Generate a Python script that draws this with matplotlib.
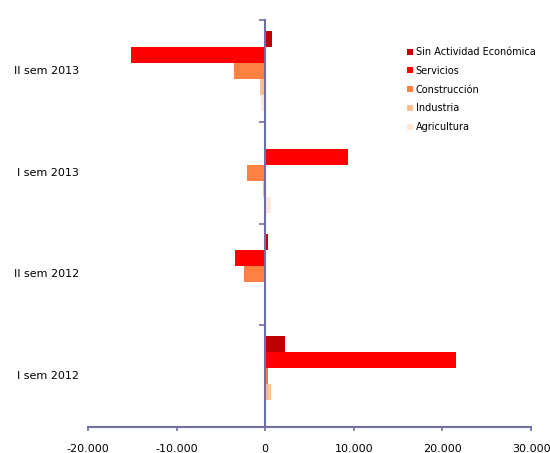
import numpy as np
import matplotlib
matplotlib.use('Agg')
import matplotlib.pyplot as plt
from matplotlib.ticker import FuncFormatter
import matplotlib.transforms as mtransforms

# datos (de abajo hacia arriba)
periodos = ['I sem 2012', 'II sem 2012', 'I sem 2013', 'II sem 2013']
sin_actividad = [2200, 300, 100, 800]
servicios = [21500, -3450, 9400, -15200]
construccion = [300, -2400, -2000, -3500]
industria = [650, 30, -200, -560]
agricultura = [50, 30, 600, -450]

series = ['Sin Actividad Económica', 'Servicios', 'Construcción', 'Industria', 'Agricultura']
valores = [sin_actividad, servicios, construccion, industria, agricultura]
colores = ['#C00000', '#FF0000', '#FF8040', '#FFC090', '#FDE9D9']

eje = '#6F6FA8'

fig = plt.figure(figsize=(5.5, 4.53), dpi=100)
ax = fig.add_axes([0.16, 0.0574, 0.8055, 0.8984])

y = np.arange(len(periodos))
h = 0.157
for i, (nombre, vals, col) in enumerate(zip(series, valores, colores)):
    ax.barh(y + (2 - i) * h, vals, height=h, color=col, label=nombre)

ax.set_xlim(-20000, 30000)
ax.set_ylim(-0.5, 3.5)
ax.set_xticks(np.arange(-20000, 30001, 10000))
ax.xaxis.set_major_formatter(FuncFormatter(lambda v, p: f'{int(v):,}'.replace(',', '.')))
ax.tick_params(axis='x', direction='out', length=3, color=eje, width=1.2, labelsize=8, pad=9)

ax.spines['top'].set_visible(False)
ax.spines['right'].set_visible(False)
ax.spines['left'].set_position(('data', 0))
for s in ['left', 'bottom']:
    ax.spines[s].set_color(eje)
    ax.spines[s].set_linewidth(1.5)

ax.set_yticks(np.arange(-0.5, 3.6, 1.0))
ax.set_yticklabels([])
ax.tick_params(axis='y', direction='out', length=4, color=eje, width=1.2)

trans = mtransforms.blended_transform_factory(ax.transAxes, ax.transData)
for yy, lab in zip(y, periodos):
    ax.text(-0.02, yy, lab, transform=trans, ha='right', va='center', fontsize=8)

ax.legend(loc='upper left', bbox_to_anchor=(0.70, 0.955), frameon=False, fontsize=7,
          handlelength=0.6, handleheight=0.6, handletextpad=0.3, labelspacing=0.9)

fig.savefig('out.png', dpi=100)
